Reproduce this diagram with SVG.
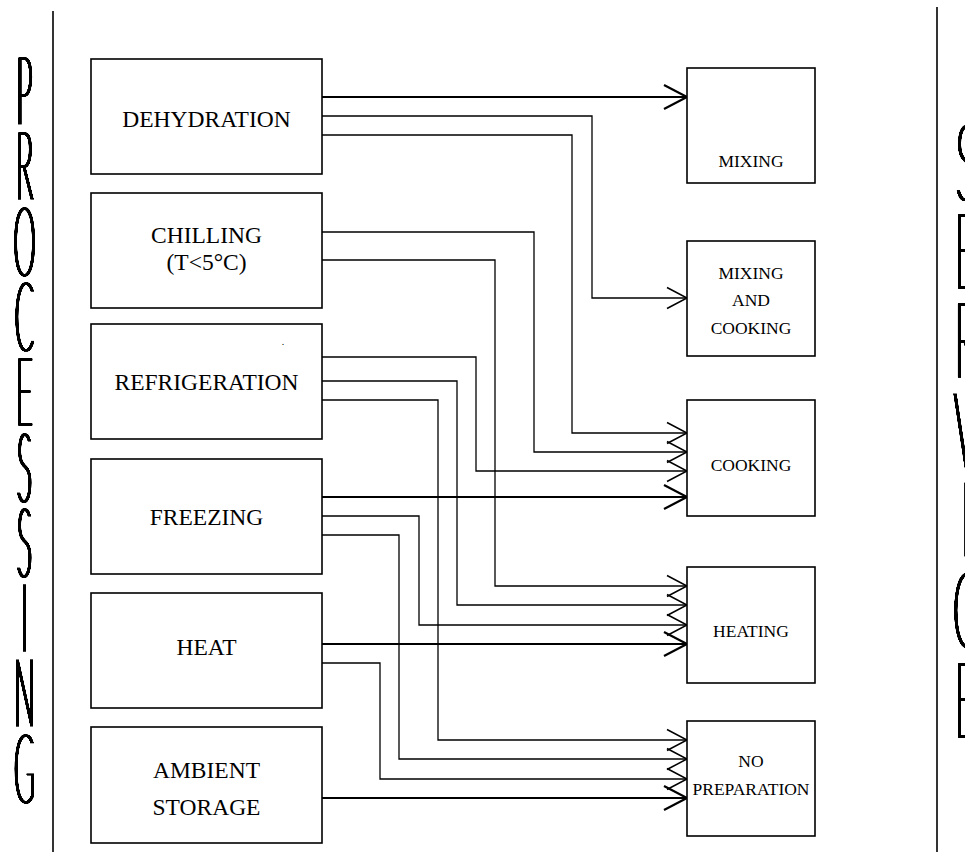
<svg xmlns="http://www.w3.org/2000/svg" width="965" height="852" viewBox="0 0 965 852">
<style>
.box{fill:#fff;stroke:#000;stroke-width:1.6}
.lbl{font-family:"Liberation Serif","Times New Roman",serif;font-size:23.5px;fill:#000;text-anchor:middle}
.rl{font-size:17.5px}
.big{font-family:Lato,Roboto,"DejaVu Sans",sans-serif;font-weight:100;fill:#000;stroke:#000;stroke-width:1;text-anchor:middle}
.lb{font-size:94px}
.rb{font-size:105px}
.c{fill:none;stroke:#000;stroke-width:1.3;stroke-linejoin:miter}
.ct{fill:none;stroke:#000;stroke-width:2.2}
.sep{stroke:#000;stroke-width:1.6}
</style>
<defs>
<filter id="thick" x="-30%" y="-5%" width="160%" height="110%">
<feMorphology operator="dilate" radius="0.75 0.2" in="SourceAlpha" result="d"/>
<feComponentTransfer in="d"><feFuncA type="linear" slope="2.5"/></feComponentTransfer>
</filter>
<marker id="ah" markerUnits="userSpaceOnUse" markerWidth="30" markerHeight="30" refX="0" refY="0" orient="auto" overflow="visible">
<path d="M-20,-10.5 L0,0 L-20,10.5" fill="none" stroke="#000" stroke-width="1.5"/>
</marker>
<marker id="aht" markerUnits="userSpaceOnUse" markerWidth="30" markerHeight="30" refX="0" refY="0" orient="auto" overflow="visible">
<path d="M-23,-12 L0,0 L-23,12" fill="none" stroke="#000" stroke-width="2.2"/>
</marker>
</defs>
<rect width="965" height="852" fill="#fff"/>
<line class="sep" x1="53" y1="11" x2="53" y2="852"/>
<line class="sep" x1="937" y1="7" x2="937" y2="852"/>
<g id="title-processing" filter="url(#thick)">
<text class="big lb" transform="translate(24.5,124) scale(0.3,1)">P</text>
<text class="big lb" transform="translate(24.5,199) scale(0.3,1)">R</text>
<text class="big lb" transform="translate(24.5,275) scale(0.3,1)">O</text>
<text class="big lb" transform="translate(24.5,350) scale(0.3,1)">C</text>
<text class="big lb" transform="translate(24.5,425) scale(0.3,1)">E</text>
<text class="big lb" transform="translate(24.5,501) scale(0.3,1)">S</text>
<text class="big lb" transform="translate(24.5,576) scale(0.3,1)">S</text>
<text class="big lb" transform="translate(24.5,651) scale(0.3,1)">I</text>
<text class="big lb" transform="translate(24.5,726) scale(0.3,1)">N</text>
<text class="big lb" transform="translate(24.5,802) scale(0.3,1)">G</text>
</g>
<g id="title-service" filter="url(#thick)">
<text class="big rb" transform="translate(966,200) scale(0.36,1)">S</text>
<text class="big rb" transform="translate(966,288) scale(0.36,1)">E</text>
<text class="big rb" transform="translate(966,377) scale(0.36,1)">R</text>
<text class="big rb" transform="translate(966,467) scale(0.36,1)">V</text>
<text class="big rb" transform="translate(966,556) scale(0.36,1)">I</text>
<text class="big rb" transform="translate(966,647) scale(0.36,1)">C</text>
<text class="big rb" transform="translate(966,737) scale(0.36,1)">E</text>
</g>
<g id="connectors">
<path class="ct" d="M322,97 H687" marker-end="url(#aht)"/>
<path class="c" d="M322,116 H592 V298 H687" marker-end="url(#ah)"/>
<path class="c" d="M322,135 H572 V433 H687" marker-end="url(#ah)"/>
<path class="c" d="M322,232 H534 V452 H687" marker-end="url(#ah)"/>
<path class="c" d="M322,260 H495 V586 H687" marker-end="url(#ah)"/>
<path class="c" d="M322,357 H476 V471 H687" marker-end="url(#ah)"/>
<path class="c" d="M322,381 H457 V605 H687" marker-end="url(#ah)"/>
<path class="c" d="M322,400 H438 V740 H687" marker-end="url(#ah)"/>
<path class="ct" d="M322,497 H687" marker-end="url(#aht)"/>
<path class="c" d="M322,516 H419 V625 H687" marker-end="url(#ah)"/>
<path class="c" d="M322,535 H399 V759 H687" marker-end="url(#ah)"/>
<path class="ct" d="M322,644 H687" marker-end="url(#aht)"/>
<path class="c" d="M322,663 H380 V779 H687" marker-end="url(#ah)"/>
<path class="ct" d="M322,798 H687" marker-end="url(#aht)"/>
</g>
<g id="dehydration"><rect class="box" x="91" y="59" width="231" height="115"/><text class="lbl" x="206.5" y="127">DEHYDRATION</text></g>
<g id="chilling"><rect class="box" x="91" y="193" width="231" height="115"/><text class="lbl" x="206.5" y="243">CHILLING</text><text class="lbl" x="206.5" y="270">(T&lt;5°C)</text></g>
<g id="refrigeration"><rect class="box" x="91" y="324" width="231" height="115"/><text class="lbl" x="206.5" y="390">REFRIGERATION</text><text class="lbl" x="283" y="345" style="font-size:10px">.</text></g>
<g id="freezing"><rect class="box" x="91" y="459" width="231" height="115"/><text class="lbl" x="206.5" y="525">FREEZING</text></g>
<g id="heat"><rect class="box" x="91" y="593" width="231" height="115"/><text class="lbl" x="206.5" y="655">HEAT</text></g>
<g id="ambient-storage"><rect class="box" x="91" y="727" width="231" height="116"/><text class="lbl" x="206.5" y="778">AMBIENT</text><text class="lbl" x="206.5" y="815">STORAGE</text></g>
<g id="mixing"><rect class="box" x="687" y="68" width="128" height="115"/><text class="lbl rl" x="751" y="167">MIXING</text></g>
<g id="mixing-and-cooking"><rect class="box" x="687" y="241" width="128" height="115"/><text class="lbl rl" x="751" y="279">MIXING</text><text class="lbl rl" x="751" y="306">AND</text><text class="lbl rl" x="751" y="334">COOKING</text></g>
<g id="cooking"><rect class="box" x="687" y="400" width="128" height="116"/><text class="lbl rl" x="751" y="471">COOKING</text></g>
<g id="heating"><rect class="box" x="687" y="567" width="128" height="116"/><text class="lbl rl" x="751" y="637">HEATING</text></g>
<g id="no-preparation"><rect class="box" x="687" y="721" width="128" height="115"/><text class="lbl rl" x="751" y="767">NO</text><text class="lbl rl" x="751" y="795">PREPARATION</text></g>
</svg>
